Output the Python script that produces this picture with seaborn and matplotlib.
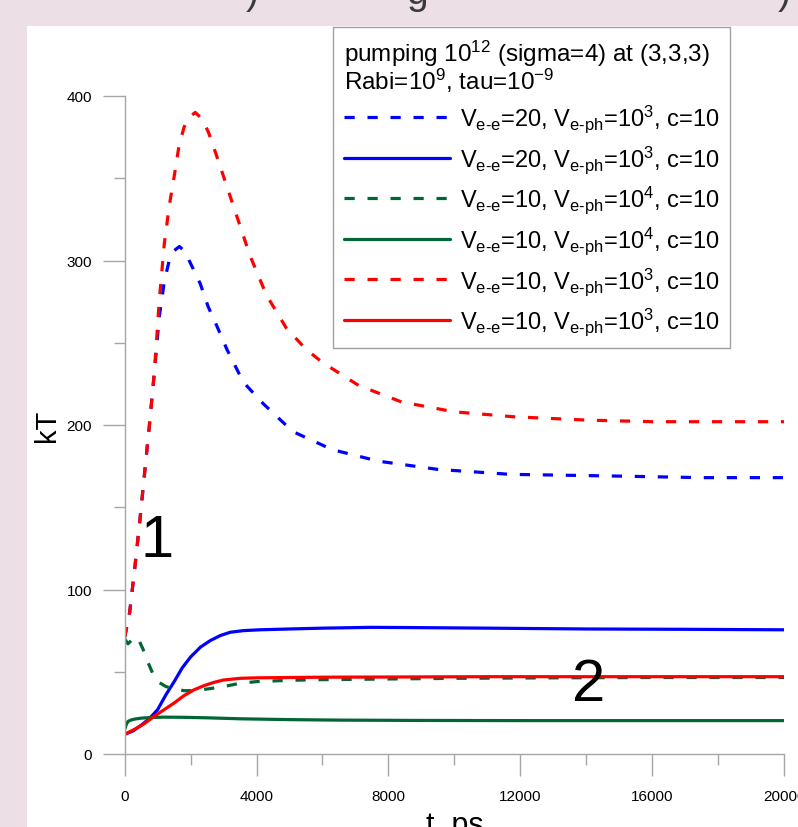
import matplotlib
matplotlib.use("Agg")
import matplotlib.pyplot as plt
import seaborn as sns
from matplotlib.ticker import MultipleLocator

t_blue_dash = [0, 150, 300, 450, 600, 750, 900, 1050, 1200, 1350, 1500, 1660, 1800, 1980, 2290,
               2530, 2800, 3100, 3600, 4200, 5100, 6300, 7700, 9500, 11700, 14800, 17500, 20000]
kT_blue_dash = [71, 86, 112, 140, 170, 200, 232, 266, 287, 300, 306, 308.5, 306, 299, 286,
                272, 260, 246, 226, 213, 196, 185, 178, 173, 170, 169, 168, 168]

t_blue = [0, 250, 500, 750, 1000, 1250, 1500, 1750, 2000, 2300, 2600, 2900, 3200, 3600, 4100,
          5000, 6000, 7500, 9000, 11000, 14000, 17000, 20000]
kT_blue = [12, 14, 17.5, 21.5, 27, 36, 44, 52.5, 59, 65, 69, 72, 74, 75, 75.5,
           76, 76.5, 77, 76.8, 76.5, 76, 75.8, 75.5]

t_green_dash = [0, 100, 200, 300, 400, 550, 700, 850, 1000, 1250, 1500, 1800, 2100, 2500, 3000,
                3500, 4000, 5000, 6000, 8000, 10000, 13000, 16000, 20000]
kT_green_dash = [70, 67, 69, 71, 70.5, 64, 56, 49, 44, 41, 39.5, 38.5, 38.5, 39.5, 41,
                 43, 44, 44.8, 45.2, 45.6, 46, 46.3, 46.5, 46.5]

t_green = [0, 50, 100, 200, 300, 500, 800, 1200, 1800, 2500, 3500, 5000, 6500, 9000, 12000, 16000, 20000]
kT_green = [15, 18, 19.8, 20.7, 21.2, 21.8, 22.2, 22.4, 22.3, 22, 21.4, 20.9, 20.6, 20.4, 20.3, 20.3, 20.3]

t_red_dash = [0, 150, 300, 450, 600, 750, 900, 1050, 1200, 1350, 1500, 1650, 1800, 1950, 2140,
              2350, 2540, 2800, 3000, 3400, 3800, 4300, 4900, 5500, 6000, 7100, 8400, 10000,
              11800, 14000, 16000, 18000, 20000]
kT_red_dash = [71, 86, 112, 140, 170, 200, 232, 276, 310, 333, 351, 370, 381, 387, 390,
               386, 378, 363, 351, 327, 303, 279, 259, 246, 238, 224, 214, 208,
               205, 203, 202, 202, 202]

t_red = [0, 300, 600, 900, 1200, 1500, 1800, 2100, 2400, 2700, 3000, 3500, 4000, 5000, 6000,
         8000, 11000, 14000, 17000, 20000]
kT_red = [12, 15, 18.5, 23, 27, 31, 35.5, 39, 41.5, 43.5, 45, 46, 46.3, 46.5, 46.7,
          46.8, 47, 47, 47, 47]

lab_20_3 = r"V$_{\text{e-e}}$=20, V$_{\text{e-ph}}$=10$^3$, c=10"
lab_10_4 = r"V$_{\text{e-e}}$=10, V$_{\text{e-ph}}$=10$^4$, c=10"
lab_10_3 = r"V$_{\text{e-e}}$=10, V$_{\text{e-ph}}$=10$^3$, c=10"

sns.set_style("white")
plt.rcParams['font.family'] = ['Liberation Sans', 'DejaVu Sans']
plt.rcParams['mathtext.fontset'] = 'custom'
plt.rcParams['mathtext.rm'] = 'Liberation Sans'
plt.rcParams['mathtext.default'] = 'regular'
plt.rcParams['text.color'] = 'black'
plt.rcParams['axes.labelcolor'] = 'black'

W, H = 798, 828
fig = plt.figure(figsize=(W / 100, H / 100), dpi=100, facecolor='#ECE0E6')
# white panel of the original screenshot
fig.patches.append(plt.Rectangle((27 / W, 0), 1, 1 - 27 / H, transform=fig.transFigure,
                                 facecolor='white', edgecolor='none', zorder=-5))
# bits of a cut-off heading above the panel
for xp, ch in [(252, ')'), (417, 'g'), (784, ')')]:
    fig.text(xp / W, 1 - 4 / H, ch, fontsize=28, ha='center', va='baseline', color='#3a3a3a')

ax = fig.add_axes([124.7 / W, 73 / H, (784 - 124.7) / W, (755 - 97) / H])
ax.set_facecolor('none')

blue, green, red = '#0000FF', '#006633', '#FF0000'
dash = (0, (3.2, 4.0))
lw = 2.3
sns.lineplot(x=t_blue_dash, y=kT_blue_dash, color=blue, linestyle=dash, lw=lw, label=lab_20_3, ax=ax)
sns.lineplot(x=t_blue, y=kT_blue, color=blue, lw=lw, label=lab_20_3, ax=ax)
sns.lineplot(x=t_green_dash, y=kT_green_dash, color=green, linestyle=dash, lw=lw, label=lab_10_4, ax=ax)
sns.lineplot(x=t_green, y=kT_green, color=green, lw=lw, label=lab_10_4, ax=ax)
sns.lineplot(x=t_red_dash, y=kT_red_dash, color=red, linestyle=dash, lw=lw, label=lab_10_3, ax=ax)
sns.lineplot(x=t_red, y=kT_red, color=red, lw=lw, label=lab_10_3, ax=ax)

ax.set_xlim(0, 20000)
ax.set_ylim(0, 400)
ax.xaxis.set_major_locator(MultipleLocator(4000))
ax.xaxis.set_minor_locator(MultipleLocator(2000))
ax.yaxis.set_major_locator(MultipleLocator(100))
ax.yaxis.set_minor_locator(MultipleLocator(50))
grey = '#A6A6A6'
for s in ['top', 'right']:
    ax.spines[s].set_visible(False)
for s in ['left', 'bottom']:
    ax.spines[s].set_color(grey)
    ax.spines[s].set_linewidth(1)
ax.tick_params(which='both', bottom=True, left=True, direction='out', color=grey, width=1,
               labelsize=11, labelcolor='black')
ax.tick_params(which='major', length=15.5)
ax.tick_params(which='minor', length=8)
ax.tick_params(axis='y', which='major', pad=8)
ax.tick_params(axis='x', which='major', pad=10)

ax.set_xlabel('t, ps', fontsize=22)
ax.xaxis.set_label_coords(0.5, -0.085)
ax.set_ylabel('kT', fontsize=21)
ax.yaxis.set_label_coords(-0.097, 0.5)

ax.text(980, 130, '1', fontsize=43, ha='center', va='center', color='black')
ax.text(14060, 42.5, '2', fontsize=43, ha='center', va='center', color='black')

leg = ax.legend(title="pumping 10$^{12}$ (sigma=4) at (3,3,3)\nRabi=10$^9$, tau=10$^{-9}$",
                loc='upper left', bbox_to_anchor=(333 / W, 1 - 28 / H), bbox_transform=fig.transFigure,
                borderaxespad=0, fontsize=17, title_fontsize=17.5, alignment='left',
                handlelength=4.5, handletextpad=0.42, labelspacing=0.38, borderpad=0.45,
                frameon=True, fancybox=False, framealpha=1, edgecolor='#A0A0A0')
leg.get_frame().set_linewidth(1)
leg.get_title().set_linespacing(0.9)

fig.savefig('out.png', dpi=100, facecolor=fig.get_facecolor())
